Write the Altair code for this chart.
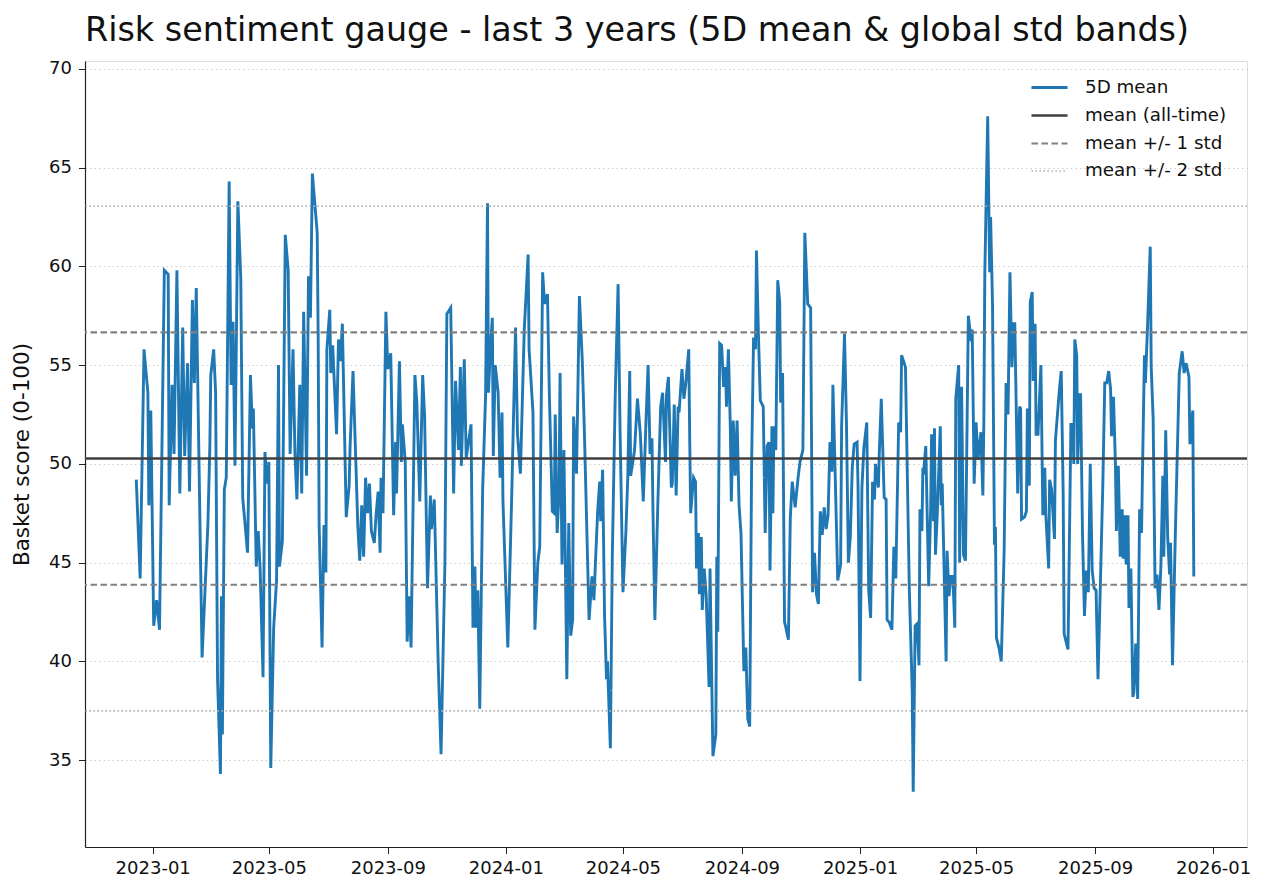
import altair as alt
import pandas as pd

START = "2022-12-15"

DAYS = [0, 4, 8, 12, 13, 15, 18, 21, 24, 29, 33, 34, 37, 39, 42, 45, 48, 50, 53, 55, 57, 58, 60, 62,
        68, 74, 76, 77, 80, 82, 84, 87, 88, 89, 91, 93, 96, 98, 100, 102, 105, 108, 110, 115, 118,
        120, 121, 124, 126, 128, 131, 133, 135, 137, 139, 142, 145, 147, 148, 151, 154, 157, 159,
        162, 164, 166, 169, 171, 173, 176, 178, 180, 182, 187, 188, 189, 192, 194, 196, 197, 200,
        201, 203, 207, 209, 211, 213, 217, 220, 221, 224, 229, 231, 233, 235, 237, 239, 241, 243,
        246, 248, 250, 252, 253, 255, 258, 260, 263, 266, 268, 269, 272, 274, 275, 278, 280, 282,
        284, 288, 290, 293, 296, 298, 301, 304, 305, 308, 312, 315, 319, 321, 325, 328, 330, 333,
        335, 336, 339, 341, 346, 348, 350, 351, 353, 355, 358, 361, 363, 364, 366, 368, 369, 371,
        374, 376, 378, 379, 384, 388, 392, 394, 397, 401, 405, 406, 410, 412, 415, 417, 420, 422,
        425, 427, 430, 432, 433, 435, 437, 438, 440, 442, 445, 447, 449, 451, 452, 455, 458, 461,
        463, 468, 471, 473, 475, 477, 479, 480, 482, 484, 486, 487, 490, 492, 495, 498, 500, 503,
        506, 508, 510, 511, 515, 518, 521, 524, 527, 529, 531, 533, 534, 536, 539, 542, 544, 547,
        548, 550, 553, 554, 556, 558, 560, 561, 564, 566, 568, 571, 572, 573, 576, 578, 579, 581,
        582, 584, 585, 587, 589, 592, 593, 596, 599, 600, 601, 603, 605, 607, 609, 610, 612, 614,
        615, 617, 619, 621, 623, 625, 628, 630, 632, 634, 636, 638, 640, 641, 643, 645, 648, 650,
        652, 654, 655, 657, 658, 659, 661, 663, 665, 666, 668, 670, 671, 674, 676, 678, 681, 684,
        686, 689, 691, 694, 697, 699, 701, 703, 705, 707, 709, 711, 713, 715, 717, 719, 720, 722,
        725, 728, 729, 732, 734, 736, 738, 740, 742, 745, 746, 748, 750, 752, 755, 757, 759, 761,
        763, 764, 767, 768, 770, 773, 775, 776, 778, 781, 783, 785, 788, 790, 791, 795, 799, 802,
        803, 805, 807, 809, 810, 812, 813, 814, 816, 819, 821, 822, 824, 825, 826, 828, 831, 832,
        833, 837, 838, 840, 842, 844, 846, 847, 850, 851, 853, 855, 857, 860, 863, 864, 866, 868,
        870, 873, 875, 876, 877, 880, 882, 883, 885, 887, 888, 889, 892, 894, 897, 899, 901, 903,
        905, 907, 908, 911, 913, 914, 915, 918, 920, 921, 923, 924, 926, 927, 929, 930, 932, 935,
        937, 939, 940, 943, 944, 946, 949, 950, 954, 956, 958, 959, 963, 966, 968, 969, 970, 972,
        973, 975, 976, 978, 980, 982, 984, 986, 988, 990, 992, 994, 997, 999, 1001, 1003, 1005,
        1007, 1008, 1010, 1012, 1013, 1015, 1017, 1019, 1020, 1022, 1023, 1025, 1026, 1028, 1030,
        1031, 1033, 1035, 1037, 1039, 1040, 1042, 1043, 1045, 1048, 1049, 1051, 1053, 1055, 1057,
        1059, 1061, 1062, 1064, 1066, 1068, 1069, 1071, 1074, 1078, 1081, 1083, 1085, 1088, 1089,
        1092, 1093]

SCORE = [49.2, 44.2, 55.8, 53.6, 47.9, 52.7, 41.8, 43.1, 41.6, 59.8, 59.6, 47.9, 54.0, 50.5, 59.8,
         48.5, 56.9, 50.4, 55.1, 48.6, 55.1, 58.3, 54.1, 58.9, 40.2, 46.9, 50.8, 54.5, 55.8, 53.6,
         39.1, 34.3, 43.3, 36.3, 48.7, 49.3, 64.3, 54.0, 57.2, 49.9, 63.3, 59.4, 48.3, 45.5, 54.5,
         51.8, 52.8, 44.8, 46.6, 44.7, 39.2, 50.6, 49.0, 50.1, 34.6, 41.7, 44.1, 55.0, 44.8, 46.1,
         61.6, 59.8, 50.5, 55.8, 50.5, 48.2, 54.0, 48.5, 57.7, 49.4, 59.5, 57.4, 64.7, 61.7, 56.4,
         46.9, 40.7, 46.9, 44.5, 55.8, 57.8, 54.6, 56.0, 51.5, 56.3, 55.2, 57.1, 47.3, 48.9, 50.9,
         54.7, 46.8, 45.1, 47.9, 45.3, 49.3, 47.5, 49.0, 46.6, 46.0, 47.5, 48.6, 45.5, 49.3, 47.5,
         57.7, 54.8, 55.6, 47.4, 51.1, 48.5, 55.2, 50.1, 52.0, 50.1, 41.0, 43.3, 40.7, 54.5, 53.1,
         48.1, 54.5, 52.4, 43.7, 48.4, 46.7, 48.2, 40.0, 35.3, 45.0, 57.6, 57.9, 48.5, 54.2, 50.7,
         54.9, 49.9, 55.3, 50.3, 52.0, 41.7, 44.8, 41.7, 43.6, 37.6, 48.7, 53.4, 63.2, 53.6, 55.8,
         57.4, 50.4, 55.0, 53.6, 49.3, 52.6, 48.1, 40.7, 48.3, 56.9, 51.5, 49.5, 56.8, 60.6, 55.8,
         52.6, 41.6, 45.0, 45.8, 59.7, 58.1, 58.6, 53.4, 47.6, 47.5, 52.5, 46.5, 48.6, 54.6, 44.9,
         50.7, 39.1, 47.0, 41.3, 42.1, 52.4, 49.5, 58.5, 55.2, 51.9, 42.1, 44.3, 43.1, 45.5, 47.7,
         49.1, 47.1, 49.7, 42.3, 39.1, 40.0, 35.6, 45.3, 53.4, 59.1, 51.8, 43.5, 46.5, 49.3, 54.7,
         49.4, 50.7, 53.3, 51.5, 48.1, 52.4, 55.0, 50.5, 51.3, 47.7, 42.1, 47.9, 52.9, 53.6, 50.1,
         53.5, 54.4, 48.8, 49.0, 53.0, 48.4, 52.9, 52.6, 54.8, 53.3, 54.1, 55.8, 51.3, 47.5, 49.3,
         49.1, 44.7, 46.5, 43.4, 46.3, 42.6, 44.7, 43.4, 38.7, 44.7, 35.2, 36.3, 45.3, 41.5, 56.1,
         56.0, 53.9, 54.9, 52.9, 55.8, 51.8, 48.1, 52.2, 49.4, 52.2, 47.9, 46.5, 39.5, 40.7, 37.1,
         36.7, 50.1, 56.4, 55.8, 60.8, 56.6, 53.2, 52.9, 46.5, 50.9, 51.1, 44.6, 51.9, 47.5, 51.9,
         50.7, 59.3, 58.2, 53.1, 54.6, 42.0, 41.8, 41.1, 47.3, 49.1, 47.8, 49.3, 50.1, 50.7, 61.7,
         58.1, 57.9, 43.5, 45.5, 43.4, 42.9, 47.6, 46.4, 47.8, 46.7, 47.4, 51.1, 49.6, 54.0, 50.2,
         44.1, 44.9, 51.9, 56.6, 52.1, 45.0, 46.3, 49.8, 51.0, 51.1, 48.8, 39.0, 48.8, 50.8, 52.1,
         43.6, 42.2, 49.1, 48.2, 50.0, 48.8, 50.6, 53.3, 48.3, 48.2, 42.1, 42.0, 41.6, 45.8, 44.2,
         52.1, 51.6, 55.5, 54.9, 43.6, 38.5, 33.4, 41.8, 41.9, 39.8, 47.7, 46.6, 49.8, 49.7, 50.9,
         43.8, 47.6, 51.5, 47.1, 51.8, 45.4, 47.6, 51.9, 47.9, 49.0, 40.0, 45.6, 43.3, 44.3, 44.3,
         41.7, 53.3, 55.0, 45.0, 53.9, 45.4, 45.1, 57.5, 56.2, 56.8, 49.0, 52.1, 50.2, 51.6, 48.4,
         52.1, 59.6, 67.6, 59.7, 62.5, 58.0, 45.9, 46.8, 41.2, 40.6, 40.0, 45.6, 54.1, 52.5, 59.7,
         54.9, 57.1, 57.1, 48.5, 52.9, 52.8, 47.2, 47.3, 47.6, 52.8, 48.9, 58.2, 58.7, 54.2, 57.1,
         51.5, 51.5, 55.0, 47.4, 49.8, 47.5, 44.7, 49.2, 48.7, 46.2, 51.2, 53.7, 54.7, 48.5, 41.4,
         40.6, 52.0, 52.0, 50.0, 56.3, 55.5, 50.0, 53.5, 53.5, 46.4, 42.3, 44.6, 43.5, 50.0, 44.6,
         43.7, 43.6, 39.1, 45.0, 49.0, 54.1, 54.1, 54.7, 53.8, 51.4, 53.4, 50.0, 46.6, 49.9, 45.3,
         47.7, 45.2, 47.4, 44.9, 47.4, 42.7, 44.7, 38.2, 38.4, 40.9, 38.1, 47.7, 46.5, 49.7, 55.5,
         54.1, 56.7, 61.0, 54.9, 52.3, 43.7, 44.4, 42.6, 44.8, 49.4, 45.3, 51.7, 46.3, 44.4, 46.0,
         39.8, 46.6, 54.6, 55.7, 54.6, 55.1, 54.4, 51.0, 52.7, 44.3]

MEAN = 50.27
STD = 6.39

SERIES = ["5D mean", "mean (all-time)", "mean +/- 1 std", "mean +/- 2 std"]
COLORS = ["#1f77b4", "#404040", "#808080", "#b0b0b0"]
DASHES = [[1, 0], [1, 0], [6.5, 3.5], [1.5, 2.5]]
WIDTHS = [2.9, 1.7, 1.5, 1.3]

Y_TICKS = [35, 40, 45, 50, 55, 60, 65, 70]
Y_DOMAIN = [30.6, 70.4]
X_TICKS = ["2023-01-01", "2023-05-01", "2023-09-01", "2024-01-01", "2024-05-01",
           "2024-09-01", "2025-01-01", "2025-05-01", "2025-09-01", "2026-01-01"]
X_DOMAIN = ["2022-10-23", "2026-02-05"]

TITLE = "Risk sentiment gauge - last 3 years (5D mean & global std bands)"
Y_TITLE = "Basket score (0-100)"

EPOCH = pd.Timestamp("1970-01-01")


def to_ms(ts):
    return int((pd.Timestamp(ts) - EPOCH) // pd.Timedelta(milliseconds=1))


dates = pd.Timestamp(START) + pd.to_timedelta(DAYS, unit="D")
line_df = pd.DataFrame({
    "date": [to_ms(d) for d in dates],
    "score": SCORE,
    "series": SERIES[0],
})

ref_df = pd.DataFrame({
    "series": [SERIES[1], SERIES[2], SERIES[2], SERIES[3], SERIES[3]],
    "level": [MEAN, MEAN + STD, MEAN - STD, MEAN + 2 * STD, MEAN - 2 * STD],
})

FONT = "DejaVu Sans"

legend = alt.Legend(
    title=None, orient="none", legendX=945, legendY=7,
    symbolType="stroke", symbolSize=1300, labelFontSize=18.3, labelFont=FONT,
    labelColor="#111111", rowPadding=0, labelOffset=16, padding=0,
)

color = alt.Color("series:N", scale=alt.Scale(domain=SERIES, range=COLORS), legend=legend)
dash = alt.StrokeDash("series:N", scale=alt.Scale(domain=SERIES, range=DASHES), legend=legend)
width = alt.StrokeWidth("series:N", scale=alt.Scale(domain=SERIES, range=WIDTHS), legend=legend)

x_enc = alt.X(
    "date:T",
    scale=alt.Scale(type="utc", domain=[to_ms(d) for d in X_DOMAIN], nice=False),
    axis=alt.Axis(
        title=None, values=[to_ms(d) for d in X_TICKS],
        labelExpr="utcFormat(datum.value, '%Y-%m')", grid=False,
        labelFontSize=18, labelFont=FONT, labelColor="#111111", labelPadding=6,
        tickSize=6.5, tickColor="#222222", domainColor="#222222", domainWidth=1.2,
        labelFlush=False, labelOverlap=False,
    ),
)

y_scale = alt.Scale(domain=Y_DOMAIN, nice=False, zero=False)
y_axis = alt.Axis(
    title=Y_TITLE, values=Y_TICKS, grid=True, gridColor="#cccccc", gridDash=[1.5, 3],
    gridWidth=1, labelFontSize=18, labelFont=FONT, labelColor="#111111", labelPadding=7,
    tickSize=6.5, tickColor="#222222", domainColor="#222222", domainWidth=1.2,
    titleFontSize=21.5, titleFont=FONT, titleFontWeight="normal", titleColor="#111111",
    titleX=-63, titleY=393, titleAngle=-90, titleAlign="center", titleBaseline="middle",
)

line = alt.Chart(line_df).mark_line(interpolate="linear").encode(
    x=x_enc,
    y=alt.Y("score:Q", scale=y_scale, axis=y_axis),
    color=color, strokeDash=dash, strokeWidth=width,
)

rules = alt.Chart(ref_df).mark_rule().encode(
    y=alt.Y("level:Q", scale=y_scale),
    color=color, strokeDash=dash, strokeWidth=width,
)

chart = alt.layer(line, rules).properties(
    width=1162, height=786,
    title=alt.Title(TITLE, anchor="start", frame="group", fontSize=33.4, font=FONT,
                    fontWeight="normal", color="#111111", offset=11),
    autosize=alt.AutoSizeParams(type="none"),
    padding={"left": 77, "top": 53, "right": 17, "bottom": 41},
).configure_view(stroke=None).configure(background="white")

chart.save("out.html", embed_options={"renderer": "svg", "actions": False})
